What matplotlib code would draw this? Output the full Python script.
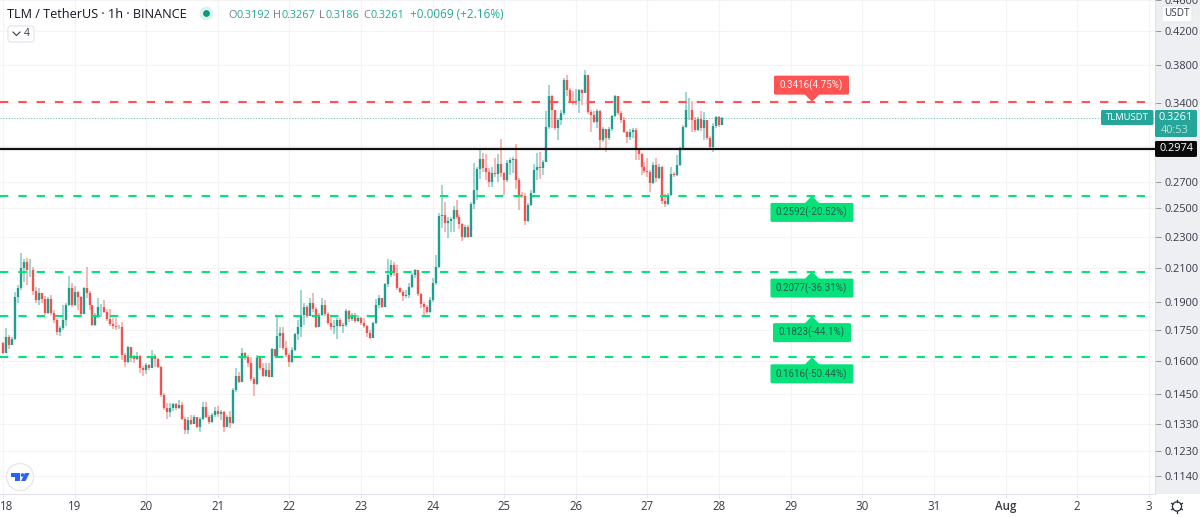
#
# TLM / USDT 1h candles with target levels
import matplotlib
matplotlib.use("Agg")
import matplotlib.pyplot as plt
from matplotlib.patches import FancyBboxPatch, Circle, Polygon, Rectangle
import numpy as np

plt.rcParams['font.family'] = ['Open Sans', 'DejaVu Sans']

# Price data, one value per hour from the 18th on
first_open = 0.1684
closes = [
 .1638,.1717,.1675,.1703,.1926,.1977,.2097,.2138,.2087,.2089,.1964,.1911,.1949,.1915,.1838,.1915,.1838,.1802,.1742,.1759,
 .1802,.1884,.1977,.1884,.1958,.1930,.1834,.1977,.1953,.1884,.1776,.1825,.1871,.1874,.1847,.1806,.1782,.1771,.1764,.1768,
 .1627,.1595,.1664,.1616,.1606,.1622,.1565,.1557,.1580,.1565,.1622,.1606,.1572,.1447,.1392,.1378,.1392,.1409,.1392,.1405,
 .1349,.1308,.1345,.1329,.1355,.1319,.1349,.1398,.1358,.1338,.1365,.1381,.1369,.1375,.1319,.1358,.1332,.1469,.1531,.1505,
 .1635,.1616,.1588,.1515,.1493,.1611,.1565,.1530,.1557,.1527,.1654,.1622,.1720,.1733,.1659,.1627,.1595,.1651,.1730,.1768,
 .1829,.1874,.1823,.1893,.1861,.1768,.1829,.1884,.1834,.1788,.1768,.1773,.1802,.1773,.1776,.1851,.1806,.1820,.1799,.1811,
 .1785,.1771,.1733,.1708,.1785,.1881,.1920,.1874,.2001,.2057,.2118,.2067,.1977,.1958,.1936,.1939,.1987,.2057,.2087,.1945,
 .1889,.1871,.1847,.1911,.2007,.2103,.2445,.2450,.2397,.2411,.2421,.2488,.2435,.2386,.2296,.2369,.2301,.2532,.2638,.2802,
 .2886,.2811,.2783,.2703,.2775,.2764,.2844,.2770,.2716,.2852,.2880,.2886,.2716,.2600,.2594,.2411,.2525,.2617,
 .2797,.2819,.2811,.2866,.3167,.3476,.3329,.3160,.3239,.3303,.3643,.3537,.3418,.3408,.3418,.3530,.3503,.3697,.3310,.3287,
 .3223,.3320,.3054,.3151,.3069,.3151,.3277,.3469,.3303,.3239,.3130,.3078,.3121,.3145,.2966,.2931,.2819,.2791,.2783,.2695,
 .2838,.2730,.2825,.2557,.2532,.2600,.2764,.2756,.2838,.2980,.3176,.3329,.3336,.3239,.3145,.3245,.3160,.3239,.3069,.2989,
 .3182,.3265,.3192,.3261]
highs = [
 .1692,.1759,.1725,.1717,.1958,.1997,.2191,.2153,.2160,.2153,.2107,.1987,.1977,.1953,.1934,.1930,.1939,.1856,.1811,.1771,
 .1884,.1893,.2051,.2007,.1993,.1964,.1934,.1987,.2107,.1964,.1884,.1838,.1920,.1889,.1911,.1860,.1860,.1811,.1811,.1776,
 .1793,.1635,.1670,.1659,.1627,.1643,.1627,.1575,.1588,.1585,.1651,.1630,.1611,.1575,.1454,.1412,.1412,.1415,.1412,.1426,
 .1419,.1355,.1358,.1365,.1365,.1358,.1358,.1419,.1416,.1365,.1371,.1398,.1401,.1385,.1382,.1365,.1382,.1476,.1565,.1550,
 .1659,.1643,.1627,.1616,.1527,.1627,.1611,.1588,.1591,.1588,.1659,.1654,.1823,.1768,.1768,.1697,.1638,.1664,.1736,.1802,
 .1968,.1893,.1884,.1920,.1949,.1874,.1842,.1920,.1911,.1847,.1820,.1802,.1811,.1811,.1788,.1860,.1856,.1842,.1838,.1829,
 .1816,.1811,.1776,.1750,.1793,.1915,.1939,.1924,.2011,.2153,.2149,.2138,.2118,.1987,.1968,.1968,.2011,.2067,.2091,.2087,
 .1949,.1902,.1884,.1930,.2037,.2181,.2464,.2677,.2550,.2435,.2435,.2517,.2562,.2452,.2397,.2381,.2381,.2550,.2858,.2819,
 .2981,.2937,.2931,.2811,.2819,.2895,.2931,.3060,.2783,.2880,.2895,.2903,.3018,.2730,.2625,.2612,.2537,.2638,
 .2847,.2937,.2951,.2880,.3320,.3590,.3486,.3336,.3255,.3336,.3661,.3697,.3555,.3520,.3544,.3544,.3544,.3751,.3697,.3336,
 .3320,.3343,.3329,.3176,.3145,.3176,.3287,.3486,.3476,.3320,.3265,.3139,.3151,.3160,.3160,.2972,.2937,.2866,.2895,.2797,
 .2866,.2900,.2847,.2830,.2607,.2612,.2825,.2783,.2923,.2995,.3192,.3513,.3452,.3418,.3265,.3265,.3320,.3313,.3160,.3090,
 .3208,.3271,.3271,.3267]
lows = [
 .1632,.1635,.1654,.1675,.1700,.1893,.1968,.2017,.1997,.2047,.1939,.1893,.1884,.1893,.1829,.1834,.1829,.1788,.1725,.1720,
 .1750,.1771,.1878,.1871,.1878,.1856,.1823,.1834,.1920,.1856,.1771,.1771,.1811,.1820,.1838,.1799,.1771,.1754,.1750,.1754,
 .1603,.1572,.1591,.1595,.1588,.1603,.1545,.1531,.1539,.1557,.1565,.1572,.1565,.1440,.1385,.1349,.1358,.1382,.1385,.1388,
 .1345,.1291,.1291,.1325,.1332,.1312,.1299,.1345,.1352,.1329,.1332,.1355,.1358,.1345,.1299,.1316,.1312,.1329,.1461,.1497,
 .1502,.1603,.1572,.1509,.1443,.1490,.1557,.1524,.1524,.1524,.1524,.1616,.1619,.1659,.1651,.1616,.1572,.1588,.1648,.1700,
 .1714,.1776,.1811,.1823,.1847,.1759,.1768,.1823,.1823,.1776,.1750,.1730,.1703,.1764,.1733,.1768,.1793,.1799,.1788,.1793,
 .1776,.1759,.1714,.1703,.1717,.1782,.1865,.1865,.1871,.1987,.2047,.2051,.1968,.1953,.1907,.1920,.1920,.1977,.2037,.1936,
 .1865,.1820,.1834,.1842,.1902,.1997,.2097,.2362,.2334,.2290,.2334,.2334,.2421,.2351,.2274,.2290,.2290,.2296,.2493,.2562,
 .2721,.2783,.2716,.2664,.2664,.2743,.2703,.2743,.2600,.2703,.2756,.2770,.2643,.2488,.2574,.2381,.2404,.2517,
 .2612,.2716,.2721,.2756,.2866,.3154,.3160,.3145,.3054,.3192,.3287,.3469,.3401,.3385,.3385,.3303,.3385,.3503,.3297,.3130,
 .3208,.3160,.2972,.3039,.2951,.3054,.3139,.3265,.3287,.3208,.3115,.3024,.3054,.3069,.2880,.2880,.2756,.2770,.2738,.2625,
 .2685,.2703,.2721,.2532,.2507,.2522,.2591,.2743,.2748,.2830,.2972,.3160,.3239,.3130,.3130,.3139,.3139,.3054,.3054,.2966,
 .2951,.3160,.3176,.3186]

# Levels
red_level = 0.3416
green_levels = [0.2592, 0.2077, 0.1823, 0.1616]
green_texts = ['0.2592(-20.52%)', '0.2077(-36.31%)', '0.1823(-44.1%)', '0.1616(-50.44%)']
red_text = '0.3416(4.75%)'
base_level = 0.2974
last_price = 0.3261

# Axis ticks
price_ticks = [0.46, 0.42, 0.38, 0.34, 0.30, 0.27, 0.25, 0.23, 0.21, 0.19, 0.175, 0.16, 0.145, 0.133, 0.123, 0.114]
day_hours = [0, 24, 48, 72, 96, 120, 144, 168, 192, 216, 240, 264, 288, 312, 336, 360, 384]
day_labels = ['', '19', '20', '21', '22', '23', '24', '25', '26', '27', '28', '29', '30', '31', 'Aug', '2', '3']

# Colours
teal = '#1f9e8f'
red = '#ef5350'
green_line = '#00e676'
text_col = '#363a45'
grid_col = '#f4f4f6'
border_col = '#e0e3eb'

W, H = 1200, 517
fig = plt.figure(figsize=(W / 100, H / 100), dpi=100, facecolor='white')
ax = fig.add_axes([0, 23 / H, 1155 / W, 494 / H])
ax.set_zorder(2)
ax.set_yscale('log')
ax.set_xlim(-1.0, 386.1)
ax.set_ylim(0.1083, 0.4600)
ax.set_facecolor('white')
# grey price scale panel, right of the axes
ax.add_patch(Rectangle((1, 0), 45 / 1155, 1, transform=ax.transAxes, clip_on=False,
                       fc='#eeeff3', ec='none', zorder=0))

ax.minorticks_off()
ax.yaxis.set_minor_locator(matplotlib.ticker.NullLocator())
ax.yaxis.tick_right()
ax.set_yticks(price_ticks)
# the 0.3000 label sits behind the black tag in the original
ax.set_yticklabels(['' if p == 0.30 else '%.4f' % p for p in price_ticks])
ax.set_xticks(day_hours)
ax.set_xticklabels(day_labels)
ax.tick_params(axis='y', length=4, width=0.7, color='#9598a1', labelsize=7.9, labelcolor=text_col, pad=3)
ax.tick_params(axis='x', length=3, width=0.7, color=border_col, labelsize=8.3, labelcolor=text_col, pad=1.5)
ax.xaxis.get_ticklabels()[14].set_fontweight('semibold')
ax.grid(True, color=grid_col, lw=0.8)
ax.set_axisbelow(True)
for s in ['top', 'left']:
    ax.spines[s].set_visible(False)
ax.spines['right'].set_color(border_col)
ax.spines['bottom'].set_color(border_col)

# candles
hours = np.arange(len(closes))
c = np.array(closes)
o = np.array([first_open] + closes[:-1])
up = c >= o
ax.vlines(hours[up], np.array(lows)[up], np.array(highs)[up], color=teal, lw=1.3, alpha=0.45, zorder=3)
ax.vlines(hours[~up], np.array(lows)[~up], np.array(highs)[~up], color=red, lw=1.3, alpha=0.45, zorder=3)
ax.vlines(hours[up], o[up], c[up], color=teal, lw=1.7, zorder=4)
ax.vlines(hours[~up], o[~up], c[~up], color=red, lw=1.7, zorder=4)

# level lines
dash = (0, (4.0, 4.8))
ax.axhline(red_level, color='#ff5252', lw=1.5, ls=dash, zorder=5)
for lv in green_levels:
    ax.axhline(lv, color=green_line, lw=1.5, ls=dash, zorder=5)
ax.axhline(base_level, color='#111111', lw=1.6, zorder=5)
ax.axhline(last_price, color=teal, lw=0.8, ls=(0, (1, 1.5)), alpha=0.6, zorder=2)

# overlay in pixels for tags and header
fig.canvas.draw()
ov = fig.add_axes([0, 0, 1, 1], facecolor='none')
ov.set_zorder(3)
ov.set_xlim(0, W)
ov.set_ylim(H, 0)
ov.axis('off')


def py(price):
    return H - ax.transData.transform((0, price))[1]


def box(x0, y0, x1, y1, fc, ec='none', r=1.5, z=6):
    ov.add_patch(FancyBboxPatch((x0 + r, y0 + r), x1 - x0 - 2 * r, y1 - y0 - 2 * r,
                                boxstyle='round,pad=%g,rounding_size=%g' % (r, r),
                                fc=fc, ec=ec, lw=0.8, zorder=z))


# target labels
label_cx = 812
red_y = py(red_level)
box(774, red_y - 26, 849, red_y - 7, '#ff5252')
ov.add_patch(Polygon([[label_cx - 8, red_y - 8], [label_cx + 8, red_y - 8], [label_cx, red_y]], fc='#ff5252', ec='none', zorder=6))
ov.text(811.5, red_y - 16.5, red_text, color='#fff3ee', fontsize=7.0, family='Roboto', ha='center', va='center', zorder=7)
for lv, txt in zip(green_levels, green_texts):
    y = py(lv)
    half = 39 if '44.1%' in txt else 41.5
    box(label_cx - half, y + 7, label_cx + half, y + 26, '#06e17a')
    ov.add_patch(Polygon([[label_cx - 8, y + 8], [label_cx + 8, y + 8], [label_cx, y]], fc='#06e17a', ec='none', zorder=6))
    ov.text(811.5, y + 16.5, txt, color='#2a5c49', fontsize=7.0, family='Roboto', ha='center', va='center', zorder=7)

# price tags on the axis
last_y = py(last_price)
box(1101, last_y - 7.5, 1153.5, last_y + 7.5, '#26a69a')
ov.text(1127, last_y, 'TLMUSDT', color='white', fontsize=6.8, ha='center', va='center', zorder=7)
box(1155, last_y - 7.5, 1197, last_y + 19.5, '#26a69a')
ov.text(1176, last_y, '%.4f' % last_price, color='white', fontsize=7.9, ha='center', va='center', zorder=7)
ov.text(1175, last_y + 12.5, '40:53', color='#b5e3dd', fontsize=7.9, ha='center', va='center', zorder=7)
base_y = py(base_level)
box(1155, base_y - 8, 1197, base_y + 8, '#0a0a0a')
ov.text(1176, base_y, '%.4f' % base_level, color='white', fontsize=7.9, ha='center', va='center', zorder=7)
box(1162, 6, 1192, 22, 'white', ec='#e6e7ec')
ov.text(1177, 14, 'USDT', color=text_col, fontsize=7.2, ha='center', va='center', zorder=7)

# first day label sits against the left edge
ov.text(0, 506.5, '18', color=text_col, fontsize=8.3, ha='left', va='center', zorder=7)

# header
ov.text(7, 14, 'TLM / TetherUS \u00b7 1h \u00b7 BINANCE', color='#131722', fontsize=9.05, ha='left', va='center', zorder=7)
ov.add_patch(Circle((206.5, 13.5), 7, fc='#dff2ef', ec='none', zorder=6))
ov.add_patch(Circle((206.5, 13.5), 3.4, fc='#089981', ec='none', zorder=7))
ohlc_x = [228, 273.5, 319, 363]
ohlc_gap = [8.3, 8, 6.7, 7.7]
ohlc_names = ['O', 'H', 'L', 'C']
ohlc_vals = ['0.3192', '0.3267', '0.3186', '0.3261']
for x0, g, n, v in zip(ohlc_x, ohlc_gap, ohlc_names, ohlc_vals):
    ov.text(x0, 15, n, color='#787b86', fontsize=7.8, ha='left', va='center', zorder=7)
    ov.text(x0 + g, 15, v, color='#26a69a', fontsize=7.8, ha='left', va='center', zorder=7)
ov.text(410, 15, '+0.0069 (+2.16%)', color='#26a69a', fontsize=8.5, ha='left', va='center', zorder=7)
box(8, 26, 34, 42, 'white', ec='#e0e3eb', r=2.5)
ov.plot([13, 16.5, 20], [32, 35.5, 32], color=text_col, lw=0.8, zorder=7)
ov.text(27, 34, '4', color=text_col, fontsize=7.5, ha='center', va='center', zorder=7)

# logo
ov.add_patch(Circle((20, 477), 13.5, fc='white', ec='#e8e8ec', lw=1, zorder=6))
blue = '#2962ff'
ov.add_patch(Polygon([[11, 473], [20, 473], [20, 481], [15, 481], [15, 476.5], [11, 476.5]], fc=blue, ec='none', zorder=7))
ov.add_patch(Circle((22.5, 475), 1.8, fc=blue, ec='none', zorder=7))
ov.add_patch(Polygon([[25, 473], [29.5, 473], [25.5, 481], [21, 481]], fc=blue, ec='none', zorder=7))

# settings icon
ov.add_patch(Circle((1177, 506.5), 4.6, fc='white', ec='#2a2e39', lw=0.9, zorder=7))
for ang in np.arange(0, 360, 60):
    a = np.deg2rad(ang + 30)
    ov.plot([1177 + 4.5 * np.cos(a), 1177 + 6.3 * np.cos(a)],
            [506.5 + 4.5 * np.sin(a), 506.5 + 6.3 * np.sin(a)], color='#2a2e39', lw=0.9, zorder=7)

fig.savefig('out.png', dpi=100, facecolor='white')
